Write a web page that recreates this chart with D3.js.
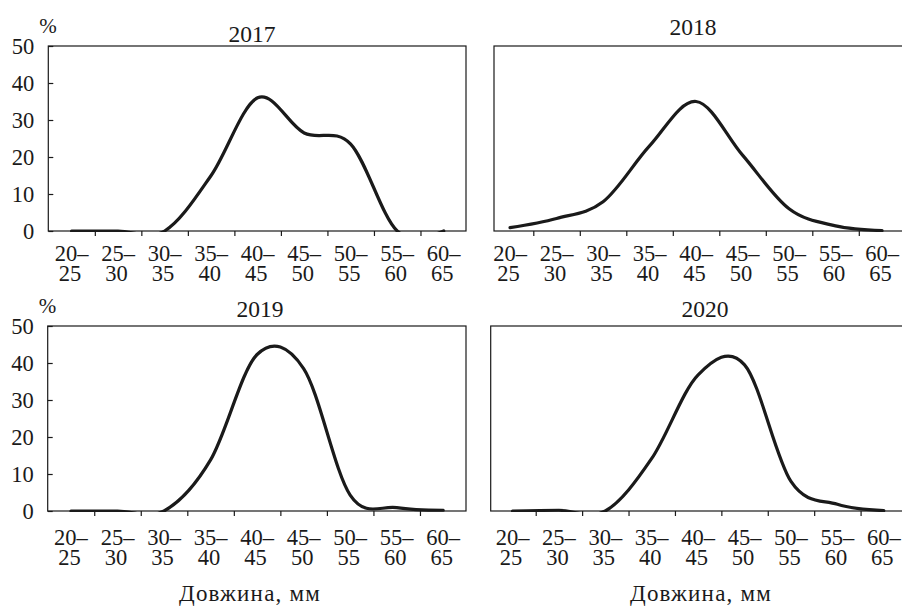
<!DOCTYPE html>
<html>
<head>
<meta charset="utf-8">
<script src="https://cdn.jsdelivr.net/npm/d3@7"></script>
<style>
  body { margin: 0; background: #fff; }
  svg text { font-family: "Liberation Serif", "Times New Roman", serif; fill: #1a1a1a; }
</style>
</head>
<body>
<svg id="chart" width="902" height="608"></svg>
<script>
// ---- Data (share of fish by length class, %) ----
const categories = ['20–25', '25–30', '30–35', '35–40', '40–45', '45–50', '50–55', '55–60', '60–65'];
const years = ['2017', '2018', '2019', '2020'];
const share2017 = [0, 0, 0, 15, 36, 26.5, 23.5, 0, 0];
const share2018 = [0.9, 3.4, 7.9, 23, 35, 20.5, 6, 1.4, 0.1];
const share2019 = [0, 0, 0, 13.8, 42.3, 38.5, 4.3, 0.9, 0.2];
const share2020 = [0, 0.2, 0, 14.2, 36.8, 39.5, 8, 1.8, 0.1];
const yTicks = [0, 10, 20, 30, 40, 50];
const yUnit = '%';
const xTitle = 'Довжина, мм';

// ---- Layout of the four panels ----
const panels = [
  {title: years[0], values: share2017, band: [48.3, 467], left: 48.3, right: 466, top: 46, bottom: 231,
   titleX: 252, titleY: 42, yAxis: true, labelDy: 30, xTitle: false},
  {title: years[1], values: share2018, band: [486.8, 905.3], left: 494, right: 912, top: 46, bottom: 231,
   titleX: 693, titleY: 35, yAxis: false, labelDy: 30, xTitle: false},
  {title: years[2], values: share2019, band: [47.7, 466.5], left: 47.7, right: 466, top: 326, bottom: 511,
   titleX: 260, titleY: 316.5, yAxis: true, labelDy: 34, xTitle: true, xTitleX: 250},
  {title: years[3], values: share2020, band: [489.3, 907], left: 490.7, right: 912, top: 326, bottom: 511,
   titleX: 705, titleY: 316.5, yAxis: false, labelDy: 34, xTitle: true, xTitleX: 701}
];

const svg = d3.select('#chart');
const ink = '#1a1a1a';

panels.forEach((p, k) => {
  const g = svg.append('g').attr('class', 'panel');

  const x = d3.scaleBand().domain(categories).range(p.band);
  const idx = d3.scaleLinear().domain([0, categories.length]).range(p.band);
  const y = d3.scaleLinear().domain([0, 50]).range([p.bottom, p.top]);

  // clip so smoothing dips below zero stay hidden
  g.append('clipPath').attr('id', `clip${k}`)
    .append('rect')
    .attr('x', p.left).attr('y', p.top - 2)
    .attr('width', p.right - p.left).attr('height', p.bottom - p.top + 3);

  // frame
  g.append('rect')
    .attr('x', p.left).attr('y', p.top)
    .attr('width', p.right - p.left).attr('height', p.bottom - p.top)
    .attr('fill', 'none').attr('stroke', ink).attr('stroke-width', 1.2);

  // x ticks at class boundaries
  const xTickAxis = d3.axisBottom(idx)
    .tickValues(d3.range(1, categories.length))
    .tickSize(5).tickFormat('');
  g.append('g')
    .attr('transform', `translate(0,${p.bottom})`)
    .call(xTickAxis)
    .call(a => a.select('.domain').remove())
    .call(a => a.selectAll('line').attr('stroke', ink).attr('stroke-width', 1.2));

  // x labels, two lines each
  const lab = g.append('g').selectAll('text')
    .data(categories)
    .join('text')
    .attr('text-anchor', 'middle')
    .attr('font-size', 22.5)
    .attr('transform', d => `translate(${x(d) + x.bandwidth() / 2},${p.bottom + p.labelDy})`);
  lab.append('tspan').attr('x', 0).attr('y', 0).text(d => d.split('–')[0] + '–');
  lab.append('tspan').attr('x', -1.5).attr('y', 20).text(d => d.split('–')[1]);

  // y axis
  if (p.yAxis) {
    const yAxis = d3.axisLeft(y).tickValues(yTicks).tickSize(-5).tickPadding(14);
    g.append('g')
      .attr('transform', `translate(${p.left},0)`)
      .call(yAxis)
      .call(a => a.select('.domain').remove())
      .call(a => a.selectAll('line').attr('stroke', ink).attr('stroke-width', 1.2))
      .call(a => a.selectAll('text')
        .attr('font-size', 22.5)
        .attr('font-family', '"Liberation Serif", "Times New Roman", serif')
        .attr('fill', ink));

    g.append('text')
      .attr('x', p.left - 9).attr('y', p.top - 13)
      .attr('font-size', 21)
      .text(yUnit);
  }

  // panel title
  g.append('text')
    .attr('x', p.titleX).attr('y', p.titleY)
    .attr('text-anchor', 'middle')
    .attr('font-size', 23.5)
    .text(p.title);

  // smoothed distribution line
  const line = d3.line()
    .x((d, i) => x(categories[i]) + x.bandwidth() / 2)
    .y(d => y(d))
    .curve(d3.curveCardinal.tension(0));
  g.append('path')
    .datum(p.values)
    .attr('clip-path', `url(#clip${k})`)
    .attr('fill', 'none')
    .attr('stroke', ink)
    .attr('stroke-width', 3.2)
    .attr('stroke-linejoin', 'round')
    .attr('stroke-linecap', 'round')
    .attr('d', line);

  if (p.xTitle) {
    g.append('text')
      .attr('x', p.xTitleX).attr('y', 601)
      .attr('text-anchor', 'middle')
      .attr('font-size', 23)
      .attr('letter-spacing', 1.2)
      .text(xTitle);
  }
});
</script>
</body>
</html>
